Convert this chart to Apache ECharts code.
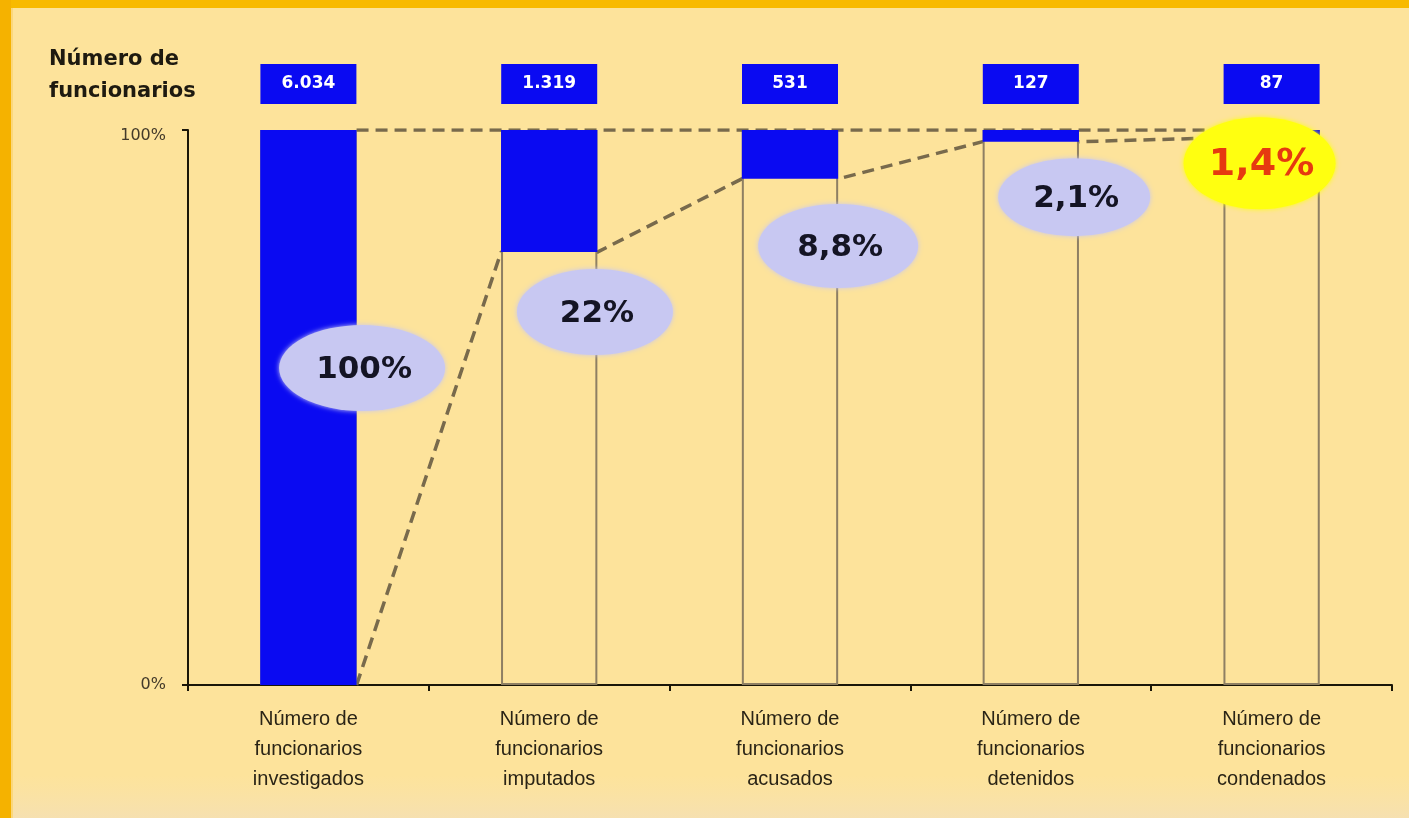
<!DOCTYPE html>
<html>
<head>
<meta charset="utf-8">
<script src="https://cdn.jsdelivr.net/npm/echarts@6/dist/echarts.min.js"></script>
<style>
  html, body { margin: 0; padding: 0; background: #FDE39B; }
  #chart { width: 1409px; height: 818px; }
</style>
</head>
<body>
<div id="chart"></div>
<script>
// ---- data ----
const categories = [
  'Número de\nfuncionarios\ninvestigados',
  'Número de\nfuncionarios\nimputados',
  'Número de\nfuncionarios\nacusados',
  'Número de\nfuncionarios\ndetenidos',
  'Número de\nfuncionarios\ncondenados'
];
const counts = [6034, 1319, 531, 127, 87];
const shares = [100, 22, 8.8, 2.1, 1.4];          // % of investigated
const yTicks = ['0%', '100%'];
const axisTitle = 'Número de\nfuncionarios';

// ---- annotation layout (badge anchors in value-axis units) ----
const badgeAt = [[0.723, 57.1], [1.69, 67.2], [2.70, 79.1], [3.68, 87.9], [4.45, 94.0]];
const badgeSize = [[166, 86], [156, 86], [160, 84], [152, 78], [152, 92]];

const BG = '#FDE39B';
const BLUE = '#0A0AF2';
const HALF = 0.2; // half bar width in category units (barWidth 40%)

function fmtCount(n) { return String(n).replace(/\B(?=(\d{3})+(?!\d))/g, '.'); }
function fmtPct(v) { return String(v).replace('.', ',') + '%'; }

const baseVals = shares.map(s => +(100 - s).toFixed(1));

// dashed connector: from bottom of each blue segment to the next one
const connector = [[0.5 + HALF, baseVals[0]]];
for (let j = 1; j < shares.length; j++) {
  connector.push([j + 0.5 - HALF, baseVals[j]]);
  if (j < shares.length - 1) connector.push([j + 0.5 + HALF, baseVals[j]]);
}
const topLine = [[0.5 + HALF, 100], [shares.length - 0.5 - HALF, 100]];

const ellipse = 'path://M0,50 A50,50 0 1,1 100,50 A50,50 0 1,1 0,50 Z';

const badgeData = shares.map((s, i) => {
  const last = i === shares.length - 1;
  return {
    value: badgeAt[i],
    symbolSize: badgeSize[i],
    itemStyle: {
      color: last ? '#FFFF10' : '#C8C8F2',
      opacity: 1,
      shadowBlur: 5,
      shadowColor: last ? '#FFFF10' : '#C8C8F2'
    },
    label: {
      show: true,
      position: 'inside',
      formatter: fmtPct(s),
      color: last ? '#E63A10' : '#141424',
      fontSize: last ? 38 : 31,
      fontWeight: 'bold',
      fontFamily: 'DejaVu Sans',
      offset: [2, 2]
    }
  };
});

const chart = echarts.init(document.getElementById('chart'), null, { renderer: 'canvas' });
chart.setOption({
  animation: false,
  backgroundColor: BG,
  title: {
    text: axisTitle,
    left: 44,
    top: 39,
    textStyle: {
      fontFamily: 'DejaVu Sans',
      fontSize: 21,
      fontWeight: 'bold',
      color: '#1E1A10',
      lineHeight: 32
    }
  },
  graphic: [
    { type: 'rect', left: 0, top: 0, shape: { width: 1409, height: 8 }, style: { fill: '#F8BA00' }, z: 100 },
    { type: 'rect', left: 0, top: 0, shape: { width: 11, height: 818 }, style: { fill: '#F5B200' }, z: 100 },
    { type: 'rect', left: 11, top: 8, shape: { width: 2, height: 810 }, style: { fill: '#FBD77A' }, z: 100 },
    {
      type: 'rect', left: 11, top: 775, shape: { width: 1398, height: 43 },
      style: { fill: new echarts.graphic.LinearGradient(0, 0, 0, 1, [
        { offset: 0, color: 'rgba(248,226,172,0)' },
        { offset: 1, color: 'rgba(246,224,176,1)' }
      ]) },
      z: -1
    }
  ],
  grid: { left: 188, right: 17, top: 130, bottom: 133 },
  xAxis: [
    {
      type: 'category',
      data: categories,
      boundaryGap: true,
      axisLine: { show: true, lineStyle: { color: '#1A1608', width: 2 } },
      axisTick: { show: true, length: 6, lineStyle: { color: '#1A1608', width: 2 } },
      axisLabel: {
        interval: 0,
        margin: 19,
        fontFamily: 'Liberation Sans',
        fontSize: 20,
        lineHeight: 30,
        color: '#2A2416'
      }
    },
    { type: 'value', min: 0, max: 5, show: false }
  ],
  yAxis: {
    type: 'value',
    min: 0,
    max: 100,
    interval: 100,
    splitLine: { show: false },
    axisLine: { show: true, lineStyle: { color: '#1A1608', width: 2 } },
    axisTick: { show: true, length: 6, lineStyle: { color: '#1A1608', width: 2 } },
    axisLabel: {
      margin: 22,
      fontFamily: 'DejaVu Sans',
      fontSize: 16,
      color: '#433A2A',
      formatter: v => (v === 0 ? '{z|' + yTicks[0] + '}' : '{t|' + yTicks[1] + '}'),
      rich: {
        z: { fontFamily: 'DejaVu Sans', fontSize: 16, color: '#433A2A' },
        t: { fontFamily: 'DejaVu Sans', fontSize: 16, color: '#433A2A', padding: [12, 0, 0, 0] }
      }
    }
  },
  series: [
    {
      name: 'connector',
      type: 'line',
      xAxisIndex: 1,
      data: connector,
      symbol: 'none',
      z: 1,
      lineStyle: { color: '#786A4C', width: 3.5, type: [12, 7] }
    },
    {
      name: 'top',
      type: 'line',
      xAxisIndex: 1,
      data: topLine,
      symbol: 'none',
      z: 1,
      lineStyle: { color: '#786A4C', width: 3.5, type: [12, 7] }
    },
    {
      name: 'outline',
      type: 'bar',
      data: categories.map(() => 100),
      barWidth: '40%',
      barGap: '-100%',
      z: 2,
      itemStyle: { color: BG, borderColor: '#8E7F63', borderWidth: 2 }
    },
    {
      name: 'base',
      type: 'bar',
      stack: 'funnel',
      data: baseVals,
      barWidth: '40%',
      z: 2,
      itemStyle: { color: 'rgba(0,0,0,0)' }
    },
    {
      name: 'share',
      type: 'bar',
      stack: 'funnel',
      data: shares,
      barWidth: '40%',
      z: 2,
      itemStyle: { color: BLUE },
      label: {
        show: true,
        position: 'top',
        distance: 26,
        formatter: p => fmtCount(counts[p.dataIndex]),
        backgroundColor: BLUE,
        width: 96,
        height: 40,
        lineHeight: 40,
        align: 'center',
        padding: 0,
        color: '#FFFFFF',
        fontFamily: 'DejaVu Sans',
        fontWeight: 'bold',
        fontSize: 17
      }
    },
    {
      name: 'badges',
      type: 'scatter',
      xAxisIndex: 1,
      symbol: ellipse,
      data: badgeData,
      z: 5
    }
  ]
});
</script>
</body>
</html>
